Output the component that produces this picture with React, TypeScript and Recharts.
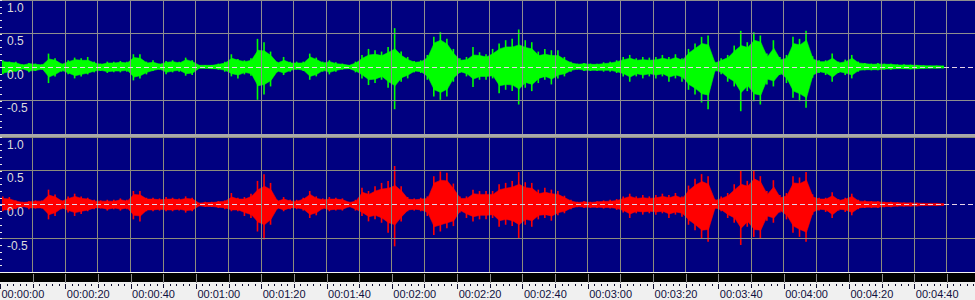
import React from 'react';
import { ComposedChart, Area, Bar, XAxis, YAxis, ReferenceLine } from 'recharts';

// bucket centre times (seconds), each bucket is 2 s wide
const bucketTimes = [
  1, 3, 5, 7, 9, 11, 13, 15, 17, 19, 21, 23, 25, 27, 29, 31, 33, 35, 37, 39, 41, 43, 45, 47, 49,
  51, 53, 55, 57, 59, 61, 63, 65, 67, 69, 71, 73, 75, 77, 79, 81, 83, 85, 87, 89, 91, 93, 95, 97, 99,
  101, 103, 105, 107, 109, 111, 113, 115, 117, 119, 121, 123, 125, 127, 129, 131, 133, 135, 137, 139, 141, 143, 145, 147, 149,
  151, 153, 155, 157, 159, 161, 163, 165, 167, 169, 171, 173, 175, 177, 179, 181, 183, 185, 187, 189, 191, 193, 195, 197, 199,
  201, 203, 205, 207, 209, 211, 213, 215, 217, 219, 221, 223, 225, 227, 229, 231, 233, 235, 237, 239, 241, 243, 245, 247, 249,
  251, 253, 255, 257, 259, 261, 263, 265, 267, 269, 271, 273, 275, 277, 279, 281, 283, 285, 287, 289,
];

// Left channel (green): peak envelope (thin spikes)
const leftPeakMax = [
  0.10, 0.08, 0.08, 0.04, 0.06, 0.05, 0.04, 0.20, 0.13, 0.05, 0.10, 0.14, 0.13, 0.15, 0.08, 0.05, 0.08, 0.08, 0.09, 0.08, 0.19, 0.19, 0.08, 0.10, 0.05,
  0.09, 0.10, 0.08, 0.14, 0.10, 0.03, 0.03, 0.03, 0.05, 0.08, 0.19, 0.12, 0.10, 0.13, 0.42, 0.37, 0.23, 0.08, 0.15, 0.08, 0.08, 0.08, 0.20, 0.14, 0.08,
  0.10, 0.07, 0.05, 0.03, 0.08, 0.18, 0.27, 0.25, 0.23, 0.30, 0.58, 0.23, 0.15, 0.09, 0.10, 0.18, 0.45, 0.52, 0.42, 0.27, 0.13, 0.15, 0.30, 0.22, 0.19,
  0.27, 0.35, 0.40, 0.42, 0.56, 0.40, 0.37, 0.23, 0.27, 0.25, 0.25, 0.15, 0.08, 0.05, 0.06, 0.05, 0.05, 0.07, 0.08, 0.10, 0.15, 0.18, 0.13, 0.15, 0.14,
  0.15, 0.18, 0.15, 0.19, 0.13, 0.27, 0.35, 0.45, 0.47, 0.08, 0.13, 0.18, 0.32, 0.54, 0.37, 0.52, 0.47, 0.20, 0.40, 0.15, 0.18, 0.45, 0.42, 0.54, 0.16,
  0.10, 0.10, 0.20, 0.08, 0.11, 0.18, 0.08, 0.06, 0.05, 0.06, 0.05, 0.05, 0.04, 0.04, 0.035, 0.03, 0.025, 0.02, 0.02, 0.02,
];
const leftPeakMin = [
  -0.11, -0.09, -0.07, -0.03, -0.08, -0.06, -0.04, -0.24, -0.14, -0.07, -0.11, -0.17, -0.14, -0.11, -0.08, -0.06, -0.09, -0.08, -0.08, -0.07, -0.20, -0.17, -0.11, -0.06, -0.04,
  -0.11, -0.08, -0.07, -0.13, -0.12, -0.02, -0.02, -0.03, -0.04, -0.07, -0.14, -0.17, -0.11, -0.13, -0.49, -0.41, -0.29, -0.08, -0.12, -0.07, -0.04, -0.06, -0.19, -0.14, -0.07,
  -0.11, -0.07, -0.04, -0.03, -0.08, -0.17, -0.27, -0.24, -0.19, -0.31, -0.63, -0.22, -0.17, -0.08, -0.09, -0.19, -0.44, -0.49, -0.44, -0.22, -0.09, -0.14, -0.30, -0.19, -0.19,
  -0.17, -0.39, -0.34, -0.36, -0.56, -0.31, -0.36, -0.24, -0.19, -0.26, -0.17, -0.14, -0.07, -0.04, -0.06, -0.06, -0.06, -0.07, -0.07, -0.09, -0.14, -0.22, -0.14, -0.17, -0.14,
  -0.17, -0.14, -0.22, -0.17, -0.22, -0.34, -0.41, -0.53, -0.63, -0.07, -0.11, -0.22, -0.29, -0.66, -0.36, -0.51, -0.56, -0.26, -0.29, -0.12, -0.24, -0.46, -0.51, -0.61, -0.16,
  -0.09, -0.12, -0.22, -0.09, -0.12, -0.17, -0.07, -0.05, -0.05, -0.05, -0.04, -0.04, -0.03, -0.03, -0.035, -0.03, -0.025, -0.02, -0.02, -0.02,
];
// Left channel (green): dense body envelope
const leftBodyMax = [
  0.08, 0.07, 0.06, 0.03, 0.05, 0.04, 0.03, 0.12, 0.10, 0.04, 0.08, 0.11, 0.10, 0.10, 0.06, 0.04, 0.06, 0.06, 0.07, 0.06, 0.14, 0.13, 0.06, 0.07, 0.04,
  0.07, 0.08, 0.06, 0.11, 0.08, 0.025, 0.025, 0.025, 0.04, 0.06, 0.13, 0.10, 0.08, 0.10, 0.25, 0.24, 0.17, 0.06, 0.10, 0.06, 0.06, 0.06, 0.15, 0.11, 0.06,
  0.08, 0.05, 0.04, 0.025, 0.06, 0.13, 0.18, 0.19, 0.17, 0.22, 0.27, 0.17, 0.11, 0.07, 0.08, 0.14, 0.36, 0.40, 0.34, 0.20, 0.10, 0.11, 0.18, 0.17, 0.15,
  0.20, 0.27, 0.30, 0.30, 0.33, 0.29, 0.27, 0.17, 0.19, 0.17, 0.17, 0.11, 0.06, 0.04, 0.05, 0.04, 0.04, 0.05, 0.06, 0.08, 0.11, 0.13, 0.10, 0.11, 0.10,
  0.11, 0.13, 0.11, 0.14, 0.10, 0.21, 0.28, 0.35, 0.33, 0.06, 0.10, 0.14, 0.24, 0.32, 0.29, 0.40, 0.37, 0.15, 0.28, 0.11, 0.13, 0.35, 0.33, 0.40, 0.12,
  0.08, 0.08, 0.13, 0.06, 0.08, 0.13, 0.06, 0.05, 0.04, 0.045, 0.04, 0.04, 0.03, 0.03, 0.028, 0.025, 0.02, 0.017, 0.017, 0.015,
];
const leftBodyMin = [
  -0.09, -0.07, -0.06, -0.03, -0.06, -0.05, -0.03, -0.15, -0.11, -0.05, -0.09, -0.13, -0.11, -0.09, -0.06, -0.05, -0.07, -0.06, -0.06, -0.05, -0.15, -0.13, -0.08, -0.05, -0.03,
  -0.08, -0.06, -0.05, -0.10, -0.09, -0.02, -0.02, -0.025, -0.03, -0.05, -0.10, -0.12, -0.08, -0.10, -0.28, -0.26, -0.20, -0.06, -0.09, -0.05, -0.03, -0.05, -0.14, -0.11, -0.05,
  -0.08, -0.05, -0.03, -0.025, -0.06, -0.12, -0.19, -0.18, -0.14, -0.22, -0.28, -0.16, -0.12, -0.06, -0.07, -0.14, -0.34, -0.38, -0.33, -0.16, -0.07, -0.10, -0.18, -0.14, -0.14,
  -0.13, -0.28, -0.26, -0.27, -0.33, -0.23, -0.26, -0.17, -0.14, -0.18, -0.12, -0.10, -0.05, -0.03, -0.05, -0.05, -0.05, -0.05, -0.05, -0.07, -0.10, -0.15, -0.10, -0.12, -0.10,
  -0.12, -0.10, -0.15, -0.12, -0.15, -0.26, -0.32, -0.40, -0.42, -0.05, -0.08, -0.16, -0.22, -0.38, -0.28, -0.40, -0.42, -0.18, -0.21, -0.09, -0.17, -0.36, -0.40, -0.46, -0.12,
  -0.07, -0.09, -0.15, -0.07, -0.09, -0.12, -0.05, -0.04, -0.04, -0.04, -0.03, -0.03, -0.025, -0.025, -0.028, -0.025, -0.02, -0.017, -0.017, -0.015,
];

// Right channel (red): peak envelope
const rightPeakMax = [
  0.12, 0.11, 0.06, 0.04, 0.05, 0.06, 0.06, 0.22, 0.15, 0.06, 0.12, 0.16, 0.12, 0.10, 0.07, 0.06, 0.07, 0.07, 0.09, 0.07, 0.20, 0.20, 0.10, 0.10, 0.09,
  0.11, 0.10, 0.09, 0.12, 0.10, 0.025, 0.04, 0.04, 0.05, 0.06, 0.17, 0.10, 0.11, 0.16, 0.35, 0.45, 0.32, 0.07, 0.11, 0.07, 0.07, 0.10, 0.20, 0.12, 0.09,
  0.11, 0.10, 0.09, 0.04, 0.07, 0.25, 0.20, 0.27, 0.32, 0.35, 0.57, 0.27, 0.11, 0.09, 0.10, 0.12, 0.42, 0.49, 0.47, 0.31, 0.12, 0.12, 0.22, 0.20, 0.20,
  0.20, 0.30, 0.32, 0.35, 0.48, 0.33, 0.32, 0.22, 0.25, 0.22, 0.20, 0.13, 0.07, 0.04, 0.05, 0.04, 0.05, 0.06, 0.07, 0.08, 0.12, 0.16, 0.12, 0.14, 0.12,
  0.14, 0.16, 0.14, 0.17, 0.12, 0.28, 0.38, 0.45, 0.42, 0.08, 0.12, 0.17, 0.30, 0.50, 0.35, 0.50, 0.42, 0.20, 0.36, 0.14, 0.17, 0.42, 0.40, 0.48, 0.15,
  0.10, 0.10, 0.18, 0.08, 0.10, 0.16, 0.07, 0.06, 0.05, 0.05, 0.04, 0.04, 0.035, 0.03, 0.03, 0.025, 0.02, 0.02, 0.02, 0.015,
];
const rightPeakMin = [
  -0.10, -0.10, -0.07, -0.04, -0.07, -0.06, -0.06, -0.22, -0.17, -0.07, -0.12, -0.17, -0.14, -0.10, -0.07, -0.06, -0.09, -0.07, -0.09, -0.07, -0.22, -0.25, -0.10, -0.10, -0.09,
  -0.10, -0.10, -0.09, -0.12, -0.10, -0.025, -0.035, -0.035, -0.05, -0.07, -0.10, -0.10, -0.17, -0.20, -0.40, -0.52, -0.30, -0.07, -0.10, -0.07, -0.07, -0.09, -0.20, -0.16, -0.07,
  -0.10, -0.09, -0.09, -0.04, -0.09, -0.17, -0.25, -0.22, -0.27, -0.42, -0.62, -0.25, -0.10, -0.09, -0.10, -0.17, -0.45, -0.40, -0.35, -0.32, -0.12, -0.20, -0.25, -0.22, -0.22,
  -0.20, -0.33, -0.30, -0.32, -0.50, -0.30, -0.33, -0.22, -0.20, -0.24, -0.16, -0.13, -0.07, -0.04, -0.05, -0.05, -0.05, -0.06, -0.06, -0.08, -0.12, -0.20, -0.13, -0.15, -0.13,
  -0.15, -0.13, -0.20, -0.15, -0.18, -0.30, -0.38, -0.50, -0.55, -0.07, -0.10, -0.20, -0.27, -0.60, -0.33, -0.48, -0.50, -0.24, -0.27, -0.12, -0.22, -0.42, -0.48, -0.55, -0.15,
  -0.09, -0.11, -0.20, -0.09, -0.11, -0.16, -0.07, -0.05, -0.05, -0.05, -0.04, -0.04, -0.03, -0.03, -0.03, -0.025, -0.02, -0.02, -0.02, -0.015,
];
// Right channel (red): dense body envelope
const rightBodyMax = [
  0.09, 0.08, 0.05, 0.03, 0.04, 0.05, 0.05, 0.14, 0.11, 0.05, 0.09, 0.12, 0.09, 0.08, 0.05, 0.05, 0.05, 0.05, 0.07, 0.05, 0.15, 0.14, 0.08, 0.08, 0.07,
  0.08, 0.08, 0.07, 0.09, 0.08, 0.02, 0.03, 0.03, 0.04, 0.05, 0.11, 0.08, 0.08, 0.12, 0.22, 0.27, 0.22, 0.05, 0.08, 0.05, 0.05, 0.08, 0.15, 0.09, 0.07,
  0.08, 0.08, 0.07, 0.03, 0.05, 0.18, 0.15, 0.20, 0.23, 0.24, 0.28, 0.20, 0.08, 0.07, 0.08, 0.09, 0.32, 0.36, 0.35, 0.23, 0.09, 0.09, 0.16, 0.15, 0.15,
  0.15, 0.22, 0.24, 0.26, 0.30, 0.25, 0.24, 0.16, 0.18, 0.16, 0.15, 0.10, 0.05, 0.03, 0.04, 0.03, 0.04, 0.045, 0.05, 0.06, 0.09, 0.12, 0.09, 0.10, 0.09,
  0.10, 0.12, 0.10, 0.13, 0.09, 0.21, 0.29, 0.34, 0.30, 0.06, 0.09, 0.13, 0.22, 0.30, 0.27, 0.38, 0.33, 0.15, 0.26, 0.10, 0.13, 0.32, 0.31, 0.36, 0.11,
  0.08, 0.08, 0.13, 0.06, 0.08, 0.12, 0.05, 0.045, 0.04, 0.04, 0.03, 0.03, 0.027, 0.024, 0.024, 0.02, 0.016, 0.016, 0.016, 0.012,
];
const rightBodyMin = [
  -0.08, -0.08, -0.05, -0.03, -0.05, -0.05, -0.05, -0.15, -0.12, -0.05, -0.09, -0.12, -0.10, -0.08, -0.05, -0.05, -0.07, -0.05, -0.07, -0.05, -0.16, -0.17, -0.08, -0.08, -0.07,
  -0.08, -0.08, -0.07, -0.09, -0.08, -0.02, -0.03, -0.03, -0.04, -0.05, -0.08, -0.08, -0.12, -0.15, -0.26, -0.30, -0.22, -0.05, -0.08, -0.05, -0.05, -0.07, -0.15, -0.12, -0.05,
  -0.08, -0.07, -0.07, -0.03, -0.07, -0.12, -0.18, -0.16, -0.20, -0.27, -0.30, -0.18, -0.08, -0.07, -0.08, -0.12, -0.33, -0.30, -0.27, -0.24, -0.09, -0.14, -0.18, -0.16, -0.16,
  -0.15, -0.24, -0.22, -0.24, -0.30, -0.22, -0.24, -0.16, -0.15, -0.17, -0.12, -0.10, -0.05, -0.03, -0.04, -0.04, -0.04, -0.045, -0.045, -0.06, -0.09, -0.14, -0.10, -0.11, -0.10,
  -0.11, -0.10, -0.14, -0.11, -0.13, -0.23, -0.30, -0.38, -0.37, -0.05, -0.08, -0.15, -0.20, -0.35, -0.25, -0.37, -0.38, -0.17, -0.20, -0.09, -0.16, -0.32, -0.37, -0.41, -0.11,
  -0.07, -0.08, -0.15, -0.07, -0.08, -0.12, -0.05, -0.04, -0.04, -0.04, -0.03, -0.03, -0.024, -0.024, -0.024, -0.02, -0.016, -0.016, -0.016, -0.012,
];

// axes
const timeDomainMax = 298.6;
const gridTimes = [10, 20, 30, 40, 50, 60, 70, 80, 90, 100, 110, 120, 130, 140, 150, 160, 170, 180, 190, 200, 210, 220, 230, 240, 250, 260, 270, 280, 290];
const labelTimes = [0, 20, 40, 60, 80, 100, 120, 140, 160, 180, 200, 220, 240, 260, 280];
const timeLabels = ['00:00:00', '00:00:20', '00:00:40', '00:01:00', '00:01:20', '00:01:40', '00:02:00', '00:02:20', '00:02:40', '00:03:00', '00:03:20', '00:03:40', '00:04:00', '00:04:20', '00:04:40'];
const ampTicks = [1, 0.9, 0.8, 0.7, 0.6, 0.5, 0.4, 0.3, 0.2, 0.1, 0, -0.1, -0.2, -0.3, -0.4, -0.5, -0.6, -0.7, -0.8, -0.9];
const ampLabelValues = [1, 0.5, 0, -0.5];
const ampLabels = ['1.0', '0.5', '0.0', '-0.5'];
const hGridValues = [1, 0.5, -0.5];

const rulerTicks: number[] = [];
for (let t = 0; t <= 298; t += 2) rulerTicks.push(t);

const leftData = bucketTimes.map((t, i) => ({
  t,
  body: [leftBodyMin[i], leftBodyMax[i]],
  peak: [leftPeakMin[i], leftPeakMax[i]],
}));
const rightData = bucketTimes.map((t, i) => ({
  t,
  body: [rightBodyMin[i], rightBodyMax[i]],
  peak: [rightPeakMin[i], rightPeakMax[i]],
}));

const W = 975;
const NAVY = '#000080';
const FONT = '"Liberation Sans", Arial, sans-serif';

const AmpTick = (props: any) => {
  const { y, payload } = props;
  const v = payload.value as number;
  const li = ampLabelValues.findIndex((a) => Math.abs(a - v) < 1e-6);
  const yy = Math.round(y) + 0.5;
  return (
    <g>
      <line x1={0} x2={2} y1={yy} y2={yy} stroke="#e8e8e8" strokeWidth={1} />
      {li >= 0 && (
        <text x={7} y={y + 11.5} fill="#dcdcdc" fontSize={12} fontFamily={FONT} textAnchor="start">
          {ampLabels[li]}
        </text>
      )}
    </g>
  );
};

const RulerTick = (props: any) => {
  const { x, y, payload } = props;
  const t = payload.value as number;
  const xx = Math.round(x) + 0.5;
  const li = labelTimes.indexOf(t);
  const isGrid = gridTimes.indexOf(t) >= 0;
  const len = t % 20 === 0 ? 5 : t % 10 === 0 ? 4 : 2;
  return (
    <g>
      {isGrid && <line x1={xx} x2={xx} y1={y + 2} y2={y + 11} stroke="#8c8c8c" strokeWidth={1} />}
      <line x1={xx} x2={xx} y1={y + 12} y2={y + 12 + len} stroke="#101030" strokeWidth={1} />
      {li >= 0 && (
        <text x={x + 1.5} y={y + 25.5} fill="#101040" fontSize={11} fontFamily={FONT}>
          {timeLabels[li]}
        </text>
      )}
    </g>
  );
};

const Panel = ({ data, color, height, grid, showRuler }: any) => (
  <ComposedChart
    width={W}
    height={height}
    data={data}
    margin={{ top: 0, right: 0, bottom: 0, left: 0 }}
  >
    <XAxis
      dataKey="t"
      type="number"
      domain={[0, timeDomainMax]}
      allowDataOverflow
      ticks={showRuler ? rulerTicks : gridTimes}
      interval={0}
      hide={!showRuler}
      height={showRuler ? 28 : 1}
      axisLine={false}
      tickLine={false}
      tickSize={0}
      tickMargin={0}
      tick={showRuler ? <RulerTick /> : false}
    />
    <YAxis
      type="number"
      domain={[-1, 1]}
      allowDataOverflow
      ticks={ampTicks}
      interval={0}
      width={30}
      mirror
      axisLine={false}
      tickLine={false}
      tick={<AmpTick />}
    />
    <Area
      type="linear"
      dataKey="body"
      fill={color}
      fillOpacity={1}
      stroke={color}
      strokeWidth={0.6}
      isAnimationActive={false}
      dot={false}
      activeDot={false}
    />
    <Bar dataKey="peak" fill={color} barSize={1.6} isAnimationActive={false} />
    {gridTimes.map((g) => (
      <ReferenceLine key={'v' + g} x={g} stroke={grid} strokeWidth={1} />
    ))}
    {hGridValues.map((g) => (
      <ReferenceLine key={'h' + g} y={g} stroke={grid} strokeWidth={g === 1 ? 2 : 1} />
    ))}
    <ReferenceLine y={0} stroke="#e6d2e6" strokeWidth={1} strokeDasharray="5 3" />
  </ComposedChart>
);

export default function App() {
  return (
    <div
      style={{
        position: 'fixed',
        left: 0,
        top: 0,
        width: W,
        height: 300,
        background: '#f0f0f0',
        overflow: 'hidden',
      }}
    >
      <style>{`.recharts-reference-line line{shape-rendering:crispEdges}`}</style>
      <div style={{ position: 'absolute', left: 0, top: 0, width: W, height: 134, background: NAVY }} />
      <div style={{ position: 'absolute', left: 0, top: 134, width: W, height: 3, background: '#a8a8a8' }} />
      <div style={{ position: 'absolute', left: 0, top: 137, width: W, height: 135, background: NAVY }} />
      <div style={{ position: 'absolute', left: 0, top: 272, width: W, height: 1, background: '#f4f4f4' }} />
      <div style={{ position: 'absolute', left: 0, top: 273, width: W, height: 9, background: '#000000' }} />
      <div style={{ position: 'absolute', left: 0, top: 0 }}>
        <Panel data={leftData} color="#00ff00" height={134} grid="#8e8e8e" showRuler={false} />
      </div>
      <div style={{ position: 'absolute', left: 0, top: 137 }}>
        <Panel data={rightData} color="#ff0000" height={163} grid="#8c8c7c" showRuler={true} />
      </div>
    </div>
  );
}
